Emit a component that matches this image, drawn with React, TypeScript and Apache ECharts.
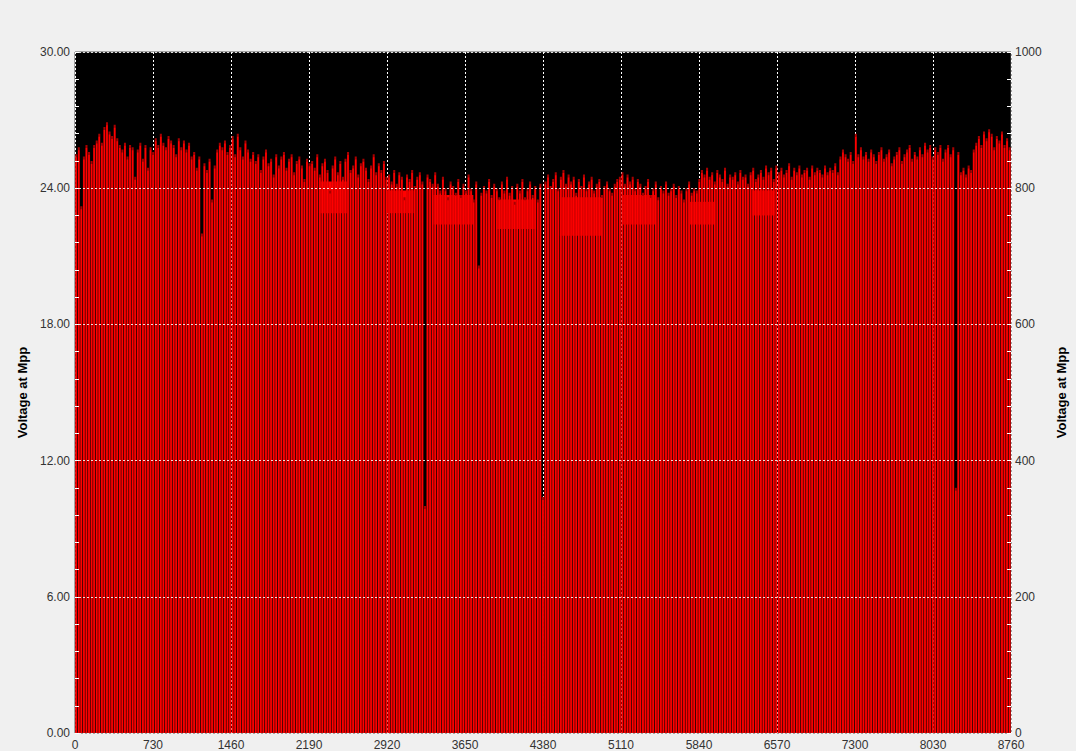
import React, { useEffect, useRef } from "react";
import * as echarts from "echarts";

const HOURS_PER_DAY = 24;
const X_TICK_INTERVAL = 730;
const X_MAX = 8760;
const LEFT_MAX = 30;
const LEFT_INTERVAL = 6;
const RIGHT_MAX = 1000;
const RIGHT_INTERVAL = 200;
const AXIS_NAME = "Voltage at Mpp";

// Daily peak of the voltage at Mpp (one value per day, 365 days)
const dailyPeakVoltage = [
  25.5, 25.8, 23.2, 25.4, 25.9, 25.6, 25.2, 25.9, 26.1, 26.4,
  26.0, 26.7, 26.9, 26.5, 26.3, 26.8, 26.2, 25.9, 25.7, 26.0,
  25.4, 25.9, 25.8, 24.5, 25.7, 26.0, 25.3, 25.9, 24.9, 25.8,
  25.6, 26.2, 25.9, 26.4, 26.0, 25.8, 26.3, 26.1, 25.9, 25.5,
  26.2, 25.8, 26.1, 25.7, 26.0, 25.4, 25.6, 24.9, 25.4, 22.0,
  25.1, 24.8, 25.3, 23.5, 25.0, 25.7, 26.0, 25.8, 26.1, 25.6,
  25.9, 26.3, 25.5, 26.4, 25.8, 25.4, 26.1, 25.7, 25.3, 25.6,
  25.2, 25.5, 24.8, 25.4, 25.7, 25.1, 25.3, 24.6, 25.5, 25.0,
  25.4, 25.6, 24.9, 25.3, 25.5, 24.7, 25.2, 25.4, 25.0, 24.4,
  25.3, 25.1, 25.2, 24.9, 25.5, 24.6, 25.1, 25.3, 24.8, 23.9,
  25.0, 25.4, 24.7, 25.2, 24.5, 25.3, 25.6, 24.8, 25.0, 25.4,
  24.6, 25.1, 25.3, 24.9, 24.4, 25.0, 25.5, 24.7, 25.1, 24.8,
  25.2, 24.5, 24.6, 24.3, 24.8, 24.2, 24.7, 24.5, 23.6, 24.6,
  24.4, 24.8, 24.1, 24.5, 24.7, 24.3, 10.0, 24.6, 24.4, 24.2,
  24.7, 24.2, 23.9, 24.5, 24.0, 23.6, 24.3, 24.1, 23.8, 24.4,
  23.7, 24.2, 23.9, 24.6, 24.0, 23.5, 24.3, 20.6, 23.8, 24.1,
  23.9, 24.4, 23.7, 24.2, 24.0, 23.6, 24.3, 23.9, 24.5, 23.8,
  24.1, 23.4, 24.2, 23.9, 24.4, 23.6, 24.0, 24.3, 23.7, 24.1,
  23.5, 24.2, 10.4, 24.3, 24.6, 24.1, 24.4, 24.7, 24.0, 24.5,
  24.8, 24.2, 24.6, 24.3, 24.5, 23.8, 24.4, 24.1, 24.6, 24.0,
  24.3, 24.5, 23.9, 24.2, 24.4, 23.7, 24.1, 24.3, 24.0, 23.8,
  24.2, 24.4, 24.5, 24.7, 24.2, 24.6, 24.3, 24.5, 24.0, 24.4,
  24.2, 23.8, 24.1, 24.4, 23.7, 24.0, 24.3, 23.6, 24.1, 23.9,
  24.3, 23.8, 24.0, 24.2, 23.7, 24.1, 23.9, 23.5, 24.0, 24.3,
  23.8, 24.0, 23.9, 24.4, 24.8, 24.6, 24.9, 24.5, 24.7, 24.3,
  24.8, 24.6, 24.4, 24.9, 24.2, 24.6, 24.5, 24.7, 24.3, 24.8,
  24.5, 24.6, 24.2, 24.7, 24.9, 24.4, 24.6, 24.8, 24.5, 25.0,
  24.7, 24.9, 24.4, 25.0, 24.7, 24.9, 24.6, 24.8, 25.1, 24.5,
  24.9, 24.7, 25.0, 24.6, 24.8, 24.9, 24.5, 25.0, 24.7, 24.9,
  24.8, 24.6, 25.0, 24.7, 24.9, 24.8, 25.1, 24.7, 25.4, 25.7,
  25.5, 25.3, 25.6, 25.2, 26.4, 25.5, 25.8, 25.4, 25.6, 25.3,
  25.7, 25.5, 25.2, 25.6, 25.8, 25.3, 25.5, 25.7, 25.1, 25.4,
  25.6, 25.8, 25.2, 25.5, 25.7, 25.9, 25.3, 25.6, 25.4, 25.8,
  25.5, 26.0, 25.7, 25.9, 25.4, 25.8, 25.6, 25.9, 25.3, 25.7,
  25.9, 25.5, 25.8, 10.8, 25.6, 24.7, 24.9, 24.6, 25.0, 24.8,
  25.7, 26.0, 26.3, 25.9, 26.5, 26.2, 26.6, 26.4, 25.8, 26.3,
  26.1, 26.5, 25.9, 26.2, 25.8,
];

// Dense red bands near the top in mid-year: [startHour, endHour, lowVoltage, highVoltage]
const denseBands = [
  [2283, 2544, 22.9, 24.3],
  [2917, 3169, 22.9, 23.9],
  [3355, 3728, 22.4, 23.7],
  [3942, 4315, 22.2, 23.5],
  [4538, 4939, 21.9, 23.6],
  [5126, 5433, 22.4, 23.7],
  [5750, 5992, 22.4, 23.4],
  [6337, 6551, 22.8, 23.9],
];

const FONT = "'Liberation Sans', Arial, sans-serif";

export default function App() {
  const ref = useRef<HTMLDivElement>(null);

  useEffect(() => {
    if (!ref.current) return;
    const chart = echarts.init(ref.current, null, { renderer: "svg" });

    const dayData = dailyPeakVoltage.map((v, i) => [i * HOURS_PER_DAY, v]);

    const labelStyle = { color: "#333", fontSize: 12, fontFamily: FONT };
    const nameStyle = { color: "#000", fontSize: 13, fontWeight: "bold", fontFamily: FONT };

    const option: any = {
      animation: false,
      backgroundColor: "#f0f0f0",
      grid: {
        left: 75,
        right: 61,
        top: 52,
        bottom: 18,
        show: true,
        backgroundColor: "#000",
        borderColor: "#555",
        borderWidth: 1,
      },
      xAxis: {
        type: "value",
        min: 0,
        max: X_MAX,
        interval: X_TICK_INTERVAL,
        axisLine: { show: false },
        axisTick: { show: false },
        axisLabel: {
          ...labelStyle,
          margin: 6,
          showMinLabel: true,
          showMaxLabel: true,
          formatter: (v: number) => String(v),
        },
        splitLine: { show: true, lineStyle: { color: "#fff", type: [2, 2], width: 1 } },
      },
      yAxis: [
        {
          type: "value",
          position: "left",
          min: 0,
          max: LEFT_MAX,
          interval: LEFT_INTERVAL,
          name: AXIS_NAME,
          nameLocation: "middle",
          nameGap: 44,
          nameRotate: 90,
          nameTextStyle: nameStyle,
          axisLine: { show: false },
          axisTick: { show: true, inside: true, length: 4, lineStyle: { color: "#fff" } },
          minorTick: { show: true, splitNumber: 5, length: 4, lineStyle: { color: "#fff" } },
          axisLabel: { ...labelStyle, margin: 5, formatter: (v: number) => v.toFixed(2) },
          splitLine: { show: true, lineStyle: { color: "#fff", type: [2, 2], width: 1, opacity: 0.85 } },
          z: 5,
        },
        {
          type: "value",
          position: "right",
          min: 0,
          max: RIGHT_MAX,
          interval: RIGHT_INTERVAL,
          name: AXIS_NAME,
          nameLocation: "middle",
          nameGap: 44,
          nameRotate: 90,
          nameTextStyle: nameStyle,
          axisLine: { show: false },
          axisTick: { show: true, inside: true, length: 4, lineStyle: { color: "#fff" } },
          minorTick: { show: true, splitNumber: 5, length: 4, lineStyle: { color: "#fff" } },
          axisLabel: {
            ...labelStyle,
            margin: 4,
            padding: [0, 0, 3, 0],
            formatter: (v: number) => String(v),
          },
          splitLine: { show: false },
          z: 5,
        },
      ],
      series: [
        {
          type: "custom",
          xAxisIndex: 0,
          yAxisIndex: 0,
          clip: true,
          z: 1,
          encode: { x: [0, 1], y: [2, 3] },
          data: denseBands,
          renderItem: (_params: any, api: any) => {
            const a = api.coord([api.value(0), api.value(3)]);
            const b = api.coord([api.value(1), api.value(2)]);
            return {
              type: "rect",
              shape: { x: a[0], y: a[1], width: b[0] - a[0], height: b[1] - a[1] },
              style: { fill: "#ff0000" },
            };
          },
        },
        {
          type: "custom",
          xAxisIndex: 0,
          yAxisIndex: 0,
          clip: true,
          z: 2,
          encode: { x: 0, y: 1 },
          data: dayData,
          renderItem: (_params: any, api: any) => {
            const h = api.value(0);
            const v = api.value(1);
            const outerTop = api.coord([h + 2, v]);
            const outerBot = api.coord([h + 21, 0]);
            const innerTop = api.coord([h + 4, v]);
            const innerBot = api.coord([h + 18, 0]);
            return {
              type: "group",
              children: [
                {
                  type: "rect",
                  shape: {
                    x: outerTop[0],
                    y: outerTop[1],
                    width: outerBot[0] - outerTop[0],
                    height: outerBot[1] - outerTop[1],
                  },
                  style: { fill: "#a80000" },
                },
                {
                  type: "rect",
                  shape: {
                    x: innerTop[0],
                    y: innerTop[1] + 3,
                    width: innerBot[0] - innerTop[0],
                    height: innerBot[1] - innerTop[1] - 3,
                  },
                  style: { fill: "#ff0000" },
                },
              ],
            };
          },
        },
      ],
    };

    chart.setOption(option);
    return () => chart.dispose();
  }, []);

  return (
    <div
      ref={ref}
      style={{ position: "fixed", left: 0, top: 0, width: 1076, height: 751, background: "#f0f0f0" }}
    />
  );
}
